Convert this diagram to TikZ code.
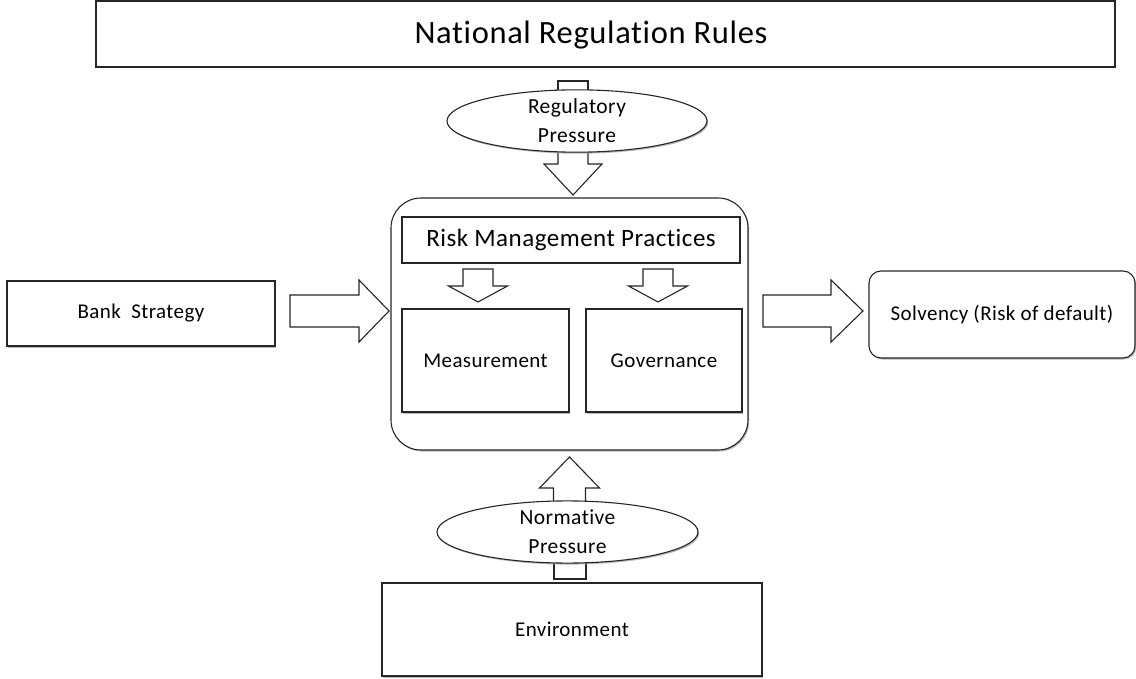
\documentclass[tikz,border=0pt]{standalone}
\usepackage{fontspec}
\setmainfont{Carlito}[Ligatures=NoCommon, LetterSpace=2]
\usetikzlibrary{shapes.geometric,shadows}

% vertical block arrow: centre x, shaft half width, head half width, shaft start y, head base y, tip y
\newcommand{\vblockarrow}[6]{%
  \draw[blockarrow] ({#1-#2},#4) -- ({#1-#2},#5) -- ({#1-#3},#5) -- (#1,#6)
    -- ({#1+#3},#5) -- ({#1+#2},#5) -- ({#1+#2},#4) -- cycle;}
% horizontal block arrow: centre y, shaft half width, head half width, shaft start x, head base x, tip x
\newcommand{\hblockarrow}[6]{%
  \draw[blockarrow] (#4,{#1-#2}) -- (#5,{#1-#2}) -- (#5,{#1-#3}) -- (#6,#1)
    -- (#5,{#1+#3}) -- (#5,{#1+#2}) -- (#4,{#1+#2}) -- cycle;}

\begin{document}
\begin{tikzpicture}[x=1pt,y=-1pt,
  outline/.style={draw=black!85, line width=1.1pt},
  shade/.style={drop shadow={shadow xshift=1.2pt, shadow yshift=-1.5pt, fill=black!35, opacity=0.8}},
  box/.style={outline, shade, rectangle, fill=white, inner sep=0pt, align=center},
  roundbox/.style={box, rounded corners=#1},
  oval/.style={outline, shade, ellipse, fill=white, inner sep=0pt, align=center,
    font=\fontsize{21.5}{29}\selectfont},
  blockarrow/.style={outline, fill=white, line join=miter},
  label/.style={font=\fontsize{21}{26}\selectfont}
]
\useasboundingbox (0,0) rectangle (1136,679);

% top frame
\node[box, minimum width=1019, minimum height=66] (rules) at (605.5,34) {};
\node[font=\fontsize{32.5}{38}\selectfont] (rulestext) at (591,35) {National Regulation Rules};

% regulatory pressure: stub, arrow and ellipse
\draw[blockarrow] (558,81) rectangle (588,110);
\vblockarrow{573}{15}{29}{135}{164}{195}
\node[oval, minimum width=260, minimum height=58] (reg) at (577,121) {Regulatory\\Pressure};

% central container
\node[roundbox=30pt, minimum width=357, minimum height=252] (core) at (569.5,324) {};
\node[box, minimum width=338, minimum height=46, font=\fontsize{25}{30}\selectfont]
  (rmp) at (571,240) {Risk Management Practices};
\vblockarrow{478}{15}{29.5}{269}{286}{302}
\vblockarrow{658}{15}{29.5}{269}{286}{302}
\node[box, minimum width=167, minimum height=103, label] (meas) at (485.5,360.5) {Measurement};
\node[box, minimum width=156, minimum height=103, label] (gov) at (664,360.5) {Governance};

% bank strategy on the left
\node[box, minimum width=268, minimum height=65, label] (bank) at (141,313.5) {Bank\ \ Strategy};
\hblockarrow{311}{16}{31}{290}{359}{389}

% solvency on the right
\hblockarrow{311}{16}{31}{763}{831}{863}
\node[roundbox=12pt, minimum width=266, minimum height=87, label] (solv) at (1002,314.5)
  {Solvency (Risk of default)};

% normative pressure: arrow, stub and ellipse
\vblockarrow{569.5}{16}{30}{520}{488}{457}
\draw[blockarrow] (554,550) rectangle (586,579);
\node[oval, minimum width=261, minimum height=60] (norm) at (567.5,532) {Normative\\Pressure};

% environment at the bottom
\node[box, minimum width=380, minimum height=93, label] (env) at (572,629.5) {Environment};
\end{tikzpicture}
\end{document}
